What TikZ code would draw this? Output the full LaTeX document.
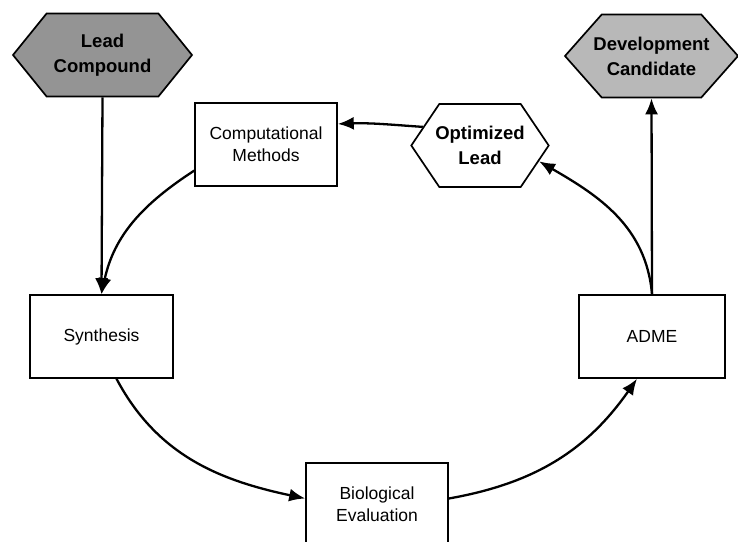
\documentclass[tikz,border=0pt]{standalone}
\usepackage{fontspec}
\setmainfont{Liberation Sans}
\usetikzlibrary{shapes.symbols,arrows.meta}
\begin{document}
\begin{tikzpicture}[x=1pt,y=1pt,
  box/.style={draw,line width=1.6pt,rectangle,minimum width=142,minimum height=83,
    align=center,font=\fontsize{17.5}{22}\selectfont,inner sep=2pt},
  hexbox/.style={draw,line width=1.7pt,shape=signal,signal to=east and west,
    signal pointer angle=102,minimum height=83,align=center,
    font=\fontsize{18.5}{25}\selectfont\bfseries,inner ysep=2pt},
  link/.style={line width=2.3pt,-{Latex[length=16pt,width=13pt]}}]
\useasboundingbox (0,0) rectangle (738,541);

% start and end goals
\node[hexbox,fill=black!42,minimum width=179,inner xsep=2pt] (lead) at (102.5,486) {Lead\\Compound};
\node[hexbox,fill=black!28,minimum width=173,inner xsep=-8.5pt,signal pointer angle=97] (dev) at (651.5,485) {Development\\Candidate};
\node[hexbox,fill=white,minimum width=136,inner xsep=-4pt,signal pointer angle=112] (opt) at (480,395.5) {Optimized\\Lead};

% steps of the cycle
\node[box] (comp) at (266,396.5) {Computational\\Methods};
\node[box,minimum width=143] (synth) at (101.5,204.5) {Synthesis};
\node[box,minimum width=146] (adme) at (652,204.5) {ADME};
\node[box] (bio) at (377,36.5) {Biological\\Evaluation};

% connectors
\draw[link] (lead.south) -- (synth.north);
\draw[link] (comp.200) to[out=213,in=78] (synth.north);
\draw[link] ([xshift=15]synth.south) to[out=-62,in=168] ([yshift=6]bio.west);
\draw[link] ([yshift=6]bio.east) to[out=10,in=-125] ([xshift=-15]adme.south);
\draw[link] (adme.north) to[out=95,in=-30] (opt.-15);
\draw[link] (adme.north) -- (dev.south);
\draw[link] (opt.162) to[out=176,in=2] (comp.16);
\end{tikzpicture}
\end{document}
